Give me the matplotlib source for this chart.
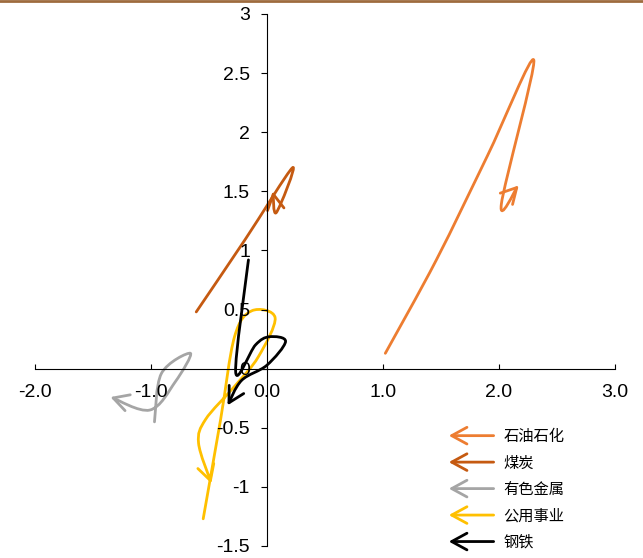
import matplotlib
matplotlib.use("Agg")
import numpy as np
import matplotlib.pyplot as plt
from matplotlib.path import Path
from matplotlib.patches import FancyArrowPatch
from matplotlib.lines import Line2D
from matplotlib.legend_handler import HandlerBase
from matplotlib.ticker import FuncFormatter, MultipleLocator

# trajectories (x, y)
names = ["石油石化", "煤炭", "有色金属", "公用事业", "钢铁"]
colors = ["#ED7D31", "#C55A11", "#A5A5A5", "#FFC000", "#000000"]

petro_x = [1.02, 1.46, 1.90, 2.30, 2.02, 2.17]
petro_y = [0.13, 0.92, 1.80, 2.61, 1.39, 1.55]

coal_x = [-0.61, -0.19, 0.22, 0.08, 0.05]
coal_y = [0.48, 1.09, 1.70, 1.32, 1.50]

metal_x = [-0.97, -0.91, -0.66, -0.79, -1.01, -1.35]
metal_y = [-0.45, -0.04, 0.13, -0.11, -0.35, -0.24]

util_x = [-0.55, -0.40, -0.28, -0.13, 0.07, -0.075, -0.28, -0.53, -0.59, -0.48]
util_y = [-1.27, -0.43, 0.27, 0.49, 0.43, 0.10, -0.15, -0.43, -0.63, -0.97]

steel_x = [-0.16, -0.27, -0.10, 0.02, 0.16, 0.0, -0.22, -0.34]
steel_y = [0.92, -0.03, 0.20, 0.27, 0.23, 0.03, -0.10, -0.31]

series_x = [petro_x, coal_x, metal_x, util_x, steel_x]
series_y = [petro_y, coal_y, metal_y, util_y, steel_y]

ARROW = "->,head_length=0.55,head_width=0.3"


def smooth_path(xs, ys):
    # catmull-rom through the points, written as cubic bezier segments
    p = np.column_stack([xs, ys]).astype(float)
    ext = np.vstack([p[0], p, p[-1]])
    verts = [p[0]]
    codes = [Path.MOVETO]
    for i in range(len(p) - 1):
        p0, p1, p2, p3 = ext[i], ext[i + 1], ext[i + 2], ext[i + 3]
        verts += [p1 + (p2 - p0) / 6, p2 - (p3 - p1) / 6, p2]
        codes += [Path.CURVE4] * 3
    return Path(verts, codes)


class ArrowHandler(HandlerBase):
    def create_artists(self, legend, orig_handle, xdescent, ydescent,
                       width, height, fontsize, trans):
        y = height / 2 - ydescent
        a = FancyArrowPatch((width - xdescent, y), (-xdescent, y),
                            arrowstyle=ARROW, mutation_scale=20,
                            color=orig_handle.get_color(), lw=2,
                            transform=trans)
        return [a]


fig = plt.figure(figsize=(6.43, 5.58), dpi=100)
ax = fig.add_axes([35 / 643, 12 / 558, 580 / 643, 532 / 558])

for xs, ys, c in zip(series_x, series_y, colors):
    arr = FancyArrowPatch(path=smooth_path(xs, ys), arrowstyle=ARROW,
                          mutation_scale=20, color=c, lw=2,
                          joinstyle="round", capstyle="round")
    ax.add_patch(arr)

ax.set_xlim(-2, 3)
ax.set_ylim(-1.5, 3)

for s in ["top", "right"]:
    ax.spines[s].set_visible(False)
ax.spines["left"].set_position(("data", 0))
ax.spines["bottom"].set_position(("data", 0))
for s in ["left", "bottom"]:
    ax.spines[s].set_linewidth(0.8)

ax.xaxis.set_major_locator(MultipleLocator(1.0))
ax.yaxis.set_major_locator(MultipleLocator(0.5))
ax.xaxis.set_major_formatter(FuncFormatter(lambda v, p: f"{v:.1f}"))
ax.yaxis.set_major_formatter(FuncFormatter(lambda v, p: f"{v:g}"))
ax.tick_params(axis="x", direction="in", length=3.6, width=0.8, pad=11,
               labelsize=14)
ax.tick_params(axis="y", direction="out", length=4.3, width=0.8, pad=8,
               labelsize=14)
for lab in ax.get_xticklabels() + ax.get_yticklabels():
    lab.set_family(["Liberation Sans", "DejaVu Sans"])

handles = [Line2D([], [], color=c) for c in colors]
leg = ax.legend(handles, names, handler_map={Line2D: ArrowHandler()},
                loc="upper left", bbox_to_anchor=(446 / 643, 1 - 428 / 558),
                bbox_transform=fig.transFigure, frameon=False,
                prop={"family": ["Noto Sans CJK SC", "DejaVu Sans"], "size": 11},
                handlelength=3.3, handletextpad=0.45, labelspacing=0.62,
                borderpad=0, borderaxespad=0)

# thin brown rule along the top edge
fig.add_artist(Line2D([0, 1], [1 - 1 / 558, 1 - 1 / 558], color="#9E6B3E",
                      lw=2, transform=fig.transFigure))

fig.savefig("out.png", dpi=100)
